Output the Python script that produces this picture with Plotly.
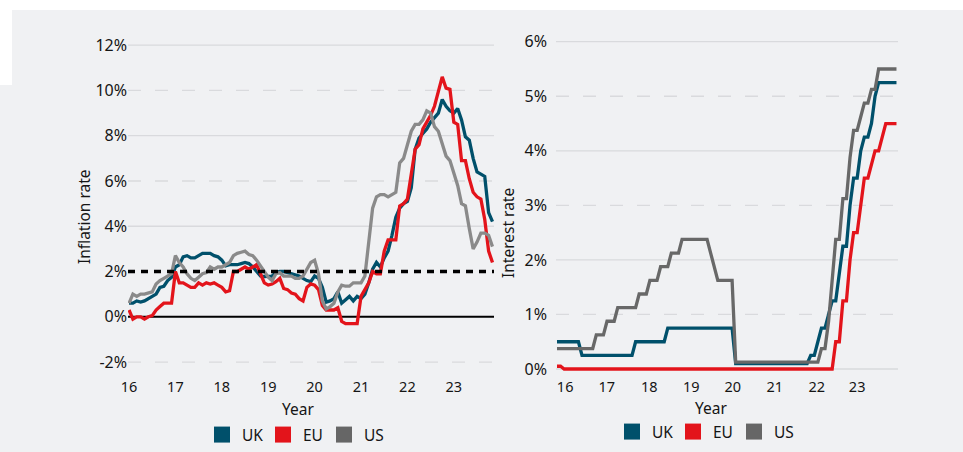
import plotly.graph_objects as go

W, H = 963, 452

# ---------------- DATA ----------------
# Annual inflation rate (%), monthly, Jan 2016 - Nov 2023
uk_inflation = [
    0.6, 0.6, 0.7, 0.65, 0.7, 0.8, 0.9, 1.0, 1.3, 1.35, 1.6, 1.75,      # 2016
    2.2, 2.3, 2.65, 2.7, 2.6, 2.6, 2.7, 2.8, 2.8, 2.8, 2.7, 2.65,       # 2017
    2.5, 2.25, 2.3, 2.3, 2.3, 2.35, 2.4, 2.35, 2.2, 2.0, 1.8, 1.78,     # 2018
    1.8, 1.8, 1.95, 2.0, 2.0, 1.95, 1.9, 1.85, 1.8, 1.7, 1.6, 1.55,    # 2019
    1.8, 1.7, 1.3, 0.65, 0.7, 0.8, 1.1, 0.6, 0.75, 0.9, 0.7, 0.9,      # 2020
    0.8, 1.0, 1.5, 2.1, 2.4, 2.2, 2.6, 2.9, 3.6, 4.4, 4.8, 5.0,        # 2021
    5.1, 5.7, 7.4, 7.9, 8.1, 8.3, 8.6, 8.8, 9.0, 9.6, 9.3, 9.1,        # 2022
    9.0, 9.2, 8.7, 7.95, 7.8, 7.0, 6.4, 6.3, 6.2, 4.6, 4.2,            # 2023
]
eu_inflation = [
    0.3, -0.1, 0.0, 0.0, -0.1, 0.0, 0.05, 0.3, 0.45, 0.6, 0.6, 0.6,    # 2016
    2.0, 1.5, 1.5, 1.4, 1.3, 1.3, 1.5, 1.4, 1.5, 1.45, 1.5, 1.4,       # 2017
    1.3, 1.1, 1.15, 2.0, 2.0, 2.1, 2.2, 2.1, 2.2, 2.3, 1.9, 1.5,       # 2018
    1.4, 1.45, 1.55, 1.7, 1.25, 1.2, 1.05, 1.0, 0.8, 0.7, 1.3, 1.45,   # 2019
    1.4, 1.2, 0.5, 0.3, 0.3, 0.3, 0.4, -0.2, -0.3, -0.3, -0.3, -0.3,   # 2020
    0.9, 1.2, 1.5, 2.0, 1.9, 1.9, 2.9, 3.4, 3.4, 3.4, 4.9, 5.0,        # 2021
    5.2, 6.4, 7.4, 7.6, 8.3, 8.6, 8.9, 9.3, 9.9, 10.6, 10.1, 10.05,    # 2022
    8.6, 8.5, 6.9, 6.9, 6.1, 5.5, 5.3, 5.2, 4.3, 2.9, 2.4,             # 2023
]
us_inflation = [
    0.6, 1.0, 0.9, 1.0, 1.0, 1.05, 1.1, 1.45, 1.6, 1.7, 1.8, 1.9,      # 2016
    2.7, 2.4, 2.2, 1.9, 1.7, 1.6, 1.75, 1.9, 1.95, 2.2, 2.1, 2.2,      # 2017
    2.2, 2.3, 2.4, 2.7, 2.8, 2.85, 2.9, 2.75, 2.7, 2.5, 2.25, 1.95,    # 2018
    1.75, 1.6, 1.9, 1.95, 1.8, 1.8, 1.8, 1.7, 1.7, 1.8, 2.1, 2.4,      # 2019
    2.5, 1.9, 0.7, 0.35, 0.45, 0.6, 1.1, 1.4, 1.35, 1.35, 1.5, 1.5,    # 2020
    1.5, 1.8, 3.3, 4.8, 5.3, 5.4, 5.4, 5.3, 5.4, 5.5, 6.8, 7.0,        # 2021
    7.6, 8.2, 8.5, 8.5, 8.7, 9.1, 9.0, 8.4, 8.2, 7.7, 7.1, 6.9,        # 2022
    6.4, 5.8, 5.0, 4.9, 3.9, 3.0, 3.3, 3.7, 3.7, 3.6, 3.1,             # 2023
]

# Policy interest rate (%), monthly, Jan 2016 - Dec 2023
uk_rate = [
    0.5, 0.5, 0.5, 0.5, 0.5, 0.5, 0.5, 0.25, 0.25, 0.25, 0.25, 0.25,
    0.25, 0.25, 0.25, 0.25, 0.25, 0.25, 0.25, 0.25, 0.25, 0.25, 0.5, 0.5,
    0.5, 0.5, 0.5, 0.5, 0.5, 0.5, 0.5, 0.75, 0.75, 0.75, 0.75, 0.75,
    0.75, 0.75, 0.75, 0.75, 0.75, 0.75, 0.75, 0.75, 0.75, 0.75, 0.75, 0.75,
    0.75, 0.75, 0.1, 0.1, 0.1, 0.1, 0.1, 0.1, 0.1, 0.1, 0.1, 0.1,
    0.1, 0.1, 0.1, 0.1, 0.1, 0.1, 0.1, 0.1, 0.1, 0.1, 0.1, 0.25,
    0.25, 0.5, 0.75, 0.75, 1.0, 1.25, 1.25, 1.75, 2.25, 2.25, 3.0, 3.5,
    3.5, 4.0, 4.25, 4.25, 4.5, 5.0, 5.25, 5.25, 5.25, 5.25, 5.25, 5.25,
]
eu_rate = [
    0.05, 0.05, 0.0, 0.0, 0.0, 0.0, 0.0, 0.0, 0.0, 0.0, 0.0, 0.0,
    0.0, 0.0, 0.0, 0.0, 0.0, 0.0, 0.0, 0.0, 0.0, 0.0, 0.0, 0.0,
    0.0, 0.0, 0.0, 0.0, 0.0, 0.0, 0.0, 0.0, 0.0, 0.0, 0.0, 0.0,
    0.0, 0.0, 0.0, 0.0, 0.0, 0.0, 0.0, 0.0, 0.0, 0.0, 0.0, 0.0,
    0.0, 0.0, 0.0, 0.0, 0.0, 0.0, 0.0, 0.0, 0.0, 0.0, 0.0, 0.0,
    0.0, 0.0, 0.0, 0.0, 0.0, 0.0, 0.0, 0.0, 0.0, 0.0, 0.0, 0.0,
    0.0, 0.0, 0.0, 0.0, 0.0, 0.0, 0.5, 0.5, 1.25, 1.25, 2.0, 2.5,
    2.5, 3.0, 3.5, 3.5, 3.75, 4.0, 4.0, 4.25, 4.5, 4.5, 4.5, 4.5,
]
us_rate = [
    0.375, 0.375, 0.375, 0.375, 0.375, 0.375, 0.375, 0.375, 0.375, 0.375, 0.375, 0.625,
    0.625, 0.625, 0.875, 0.875, 0.875, 1.125, 1.125, 1.125, 1.125, 1.125, 1.125, 1.375,
    1.375, 1.375, 1.625, 1.625, 1.625, 1.875, 1.875, 1.875, 2.125, 2.125, 2.125, 2.375,
    2.375, 2.375, 2.375, 2.375, 2.375, 2.375, 2.375, 2.125, 1.875, 1.625, 1.625, 1.625,
    1.625, 1.625, 0.125, 0.125, 0.125, 0.125, 0.125, 0.125, 0.125, 0.125, 0.125, 0.125,
    0.125, 0.125, 0.125, 0.125, 0.125, 0.125, 0.125, 0.125, 0.125, 0.125, 0.125, 0.125,
    0.125, 0.125, 0.375, 0.375, 0.875, 1.625, 2.375, 2.375, 3.125, 3.125, 3.875, 4.375,
    4.375, 4.625, 4.875, 4.875, 5.125, 5.125, 5.5, 5.5, 5.5, 5.5, 5.5, 5.5,
]

series_names = ["UK", "EU", "US"]

# Tick labels
year_tick_vals = [2016, 2017, 2018, 2019, 2020, 2021, 2022, 2023]
year_tick_text = ["16", "17", "18", "19", "20", "21", "22", "23"]
right_year_tick_vals = [2016.19, 2017.16, 2018.15, 2019.13, 2020.10, 2021.08, 2022.06, 2023.0]
infl_tick_vals = [-2, 0, 2, 4, 6, 8, 10, 12]
infl_tick_text = ["-2%", "0%", "2%", "4%", "6%", "8%", "10%", "12%"]
rate_tick_vals = [0, 1, 2, 3, 4, 5, 6]
rate_tick_text = ["0%", "1%", "2%", "3%", "4%", "5%", "6%"]

infl_grid_solid = [4, 8, 12]
infl_grid_dashed = [-2, 6, 10]
infl_target = 2
rate_grid_solid = [0, 2, 4, 6]
rate_grid_dashed = [1, 3, 5]

# ---------------- STYLE ----------------
FONT = "Noto Sans"
TXT = "#151515"
BG = "#f0f1f3"
GRID = "#d9dadd"
line_colors_left = {"UK": "#00506b", "EU": "#e3141b", "US": "#8a8a8a"}
line_colors_right = {"UK": "#00506b", "EU": "#e3141b", "US": "#686868"}
legend_colors = {"UK": "#00506b", "EU": "#e3141b", "US": "#666666"}
LW = 3.3

infl_x = [2016 + i / 12 for i in range(len(uk_inflation))]
rate_x = [2016 + i / 12 for i in range(len(uk_rate))]

fig = go.Figure()

for name, vals in zip(series_names, [uk_inflation, eu_inflation, us_inflation]):
    fig.add_trace(go.Scatter(x=infl_x, y=vals, mode="lines", name=name,
                             line=dict(color=line_colors_left[name], width=LW),
                             showlegend=False, xaxis="x", yaxis="y", hoverinfo="skip"))
for name, vals in zip(series_names, [uk_rate, eu_rate, us_rate]):
    fig.add_trace(go.Scatter(x=rate_x, y=vals, mode="lines", name=name,
                             line=dict(color=line_colors_right[name], width=LW),
                             showlegend=False, xaxis="x2", yaxis="y2", hoverinfo="skip"))

# legend entries (square swatches)
for lg, xa, ya in [("legend", "x", "y"), ("legend2", "x2", "y2")]:
    for name in series_names:
        fig.add_trace(go.Scatter(x=[None], y=[None], mode="markers", name=name,
                                 marker=dict(symbol="square", size=17, color=legend_colors[name]),
                                 showlegend=True, legend=lg, xaxis=xa, yaxis=ya))

shapes = []
# white frame remnants of the original page
shapes.append(dict(type="rect", xref="paper", yref="paper", x0=0, x1=1,
                   y0=1 - 10 / H, y1=1, fillcolor="white", line=dict(width=0), layer="below"))
shapes.append(dict(type="rect", xref="paper", yref="paper", x0=0, x1=12 / W,
                   y0=1 - 85 / H, y1=1, fillcolor="white", line=dict(width=0), layer="below"))

def hline(xref, yref, yv, color, width, dash):
    return dict(type="line", xref=xref + " domain", yref=yref, x0=0, x1=1, y0=yv, y1=yv,
                line=dict(color=color, width=width, dash=dash), layer="below")

for v in infl_grid_solid:
    shapes.append(hline("x", "y", v, GRID, 1.3, "solid"))
for v in infl_grid_dashed:
    shapes.append(hline("x", "y", v, GRID, 1.3, "13px,14px"))
for v in rate_grid_solid:
    shapes.append(hline("x2", "y2", v, GRID, 1.3, "solid"))
for v in rate_grid_dashed:
    shapes.append(hline("x2", "y2", v, GRID, 1.3, "13px,14px"))
shapes.append(dict(type="line", xref="x domain", yref="y", x0=0, x1=1, y0=0, y1=0,
                   line=dict(color="black", width=2), layer="below"))
shapes.append(dict(type="line", xref="x domain", yref="y", x0=0, x1=1, y0=infl_target, y1=infl_target,
                   line=dict(color="black", width=3.5, dash="7px,6px"), layer="above"))

ytop, ybot = 35, 372
tickfont_y = dict(family=FONT, size=16, color=TXT)
tickfont_x = dict(family=FONT, size=14.5, color=TXT)
title_font = dict(family=FONT, size=15.5, color=TXT)

fig.update_layout(
    width=W, height=H, autosize=False,
    margin=dict(l=0, r=0, t=0, b=0, autoexpand=False),
    paper_bgcolor=BG, plot_bgcolor="rgba(0,0,0,0)",
    font=dict(family=FONT, color=TXT),
    shapes=shapes,
    xaxis=dict(domain=[128 / W, 494 / W], range=[2015.978, 2023.866], anchor="y",
               tickvals=year_tick_vals, ticktext=year_tick_text, tickfont=tickfont_x,
               showgrid=False, zeroline=False, showline=False, ticks="", automargin=False,
               ticklabelstandoff=4),
    yaxis=dict(domain=[1 - ybot / H, 1 - ytop / H], range=[-2.44, 12.45], anchor="x",
               tickvals=infl_tick_vals, ticktext=infl_tick_text, tickfont=tickfont_y,
               showgrid=False, zeroline=False, showline=False, ticks="", automargin=False),
    xaxis2=dict(domain=[556 / W, 898 / W], range=[2015.977, 2023.952], anchor="y2",
                tickvals=right_year_tick_vals, ticktext=year_tick_text, tickfont=tickfont_x,
                showgrid=False, zeroline=False, showline=False, ticks="", automargin=False,
                ticklabelstandoff=4),
    yaxis2=dict(domain=[1 - ybot / H, 1 - ytop / H], range=[-0.055, 6.123], anchor="x2",
                tickvals=rate_tick_vals, ticktext=rate_tick_text, tickfont=tickfont_y,
                showgrid=False, zeroline=False, showline=False, ticks="", ticklabelstandoff=8,
                automargin=False),
    legend=dict(orientation="h", x=202 / W, xanchor="left", y=1 - 435 / H, yanchor="middle",
                bgcolor="rgba(0,0,0,0)", font=dict(family=FONT, size=15.5, color=TXT),
                entrywidth=16, entrywidthmode="pixels", itemsizing="trace"),
    legend2=dict(orientation="h", x=612 / W, xanchor="left", y=1 - 432 / H, yanchor="middle",
                 bgcolor="rgba(0,0,0,0)", font=dict(family=FONT, size=15.5, color=TXT),
                 entrywidth=16, entrywidthmode="pixels", itemsizing="trace"),
    annotations=[
        dict(text="Inflation rate", xref="paper", yref="paper", x=84 / W, y=1 - 217 / H,
             showarrow=False, textangle=-90, font=title_font,
             xanchor="center", yanchor="middle"),
        dict(text="Interest rate", xref="paper", yref="paper", x=508 / W, y=1 - 233 / H,
             showarrow=False, textangle=-90, font=title_font,
             xanchor="center", yanchor="middle"),
        dict(text="Year", xref="paper", yref="paper", x=298 / W, y=1 - 409 / H,
             showarrow=False, font=title_font, xanchor="center", yanchor="middle"),
        dict(text="Year", xref="paper", yref="paper", x=711 / W, y=1 - 408 / H,
             showarrow=False, font=title_font, xanchor="center", yanchor="middle"),
    ],
)

fig.write_html("out.html", config={"displayModeBar": False},
               post_script="document.body.style.margin='0';document.body.style.padding='0';"
                           "document.documentElement.style.overflow='hidden';")
